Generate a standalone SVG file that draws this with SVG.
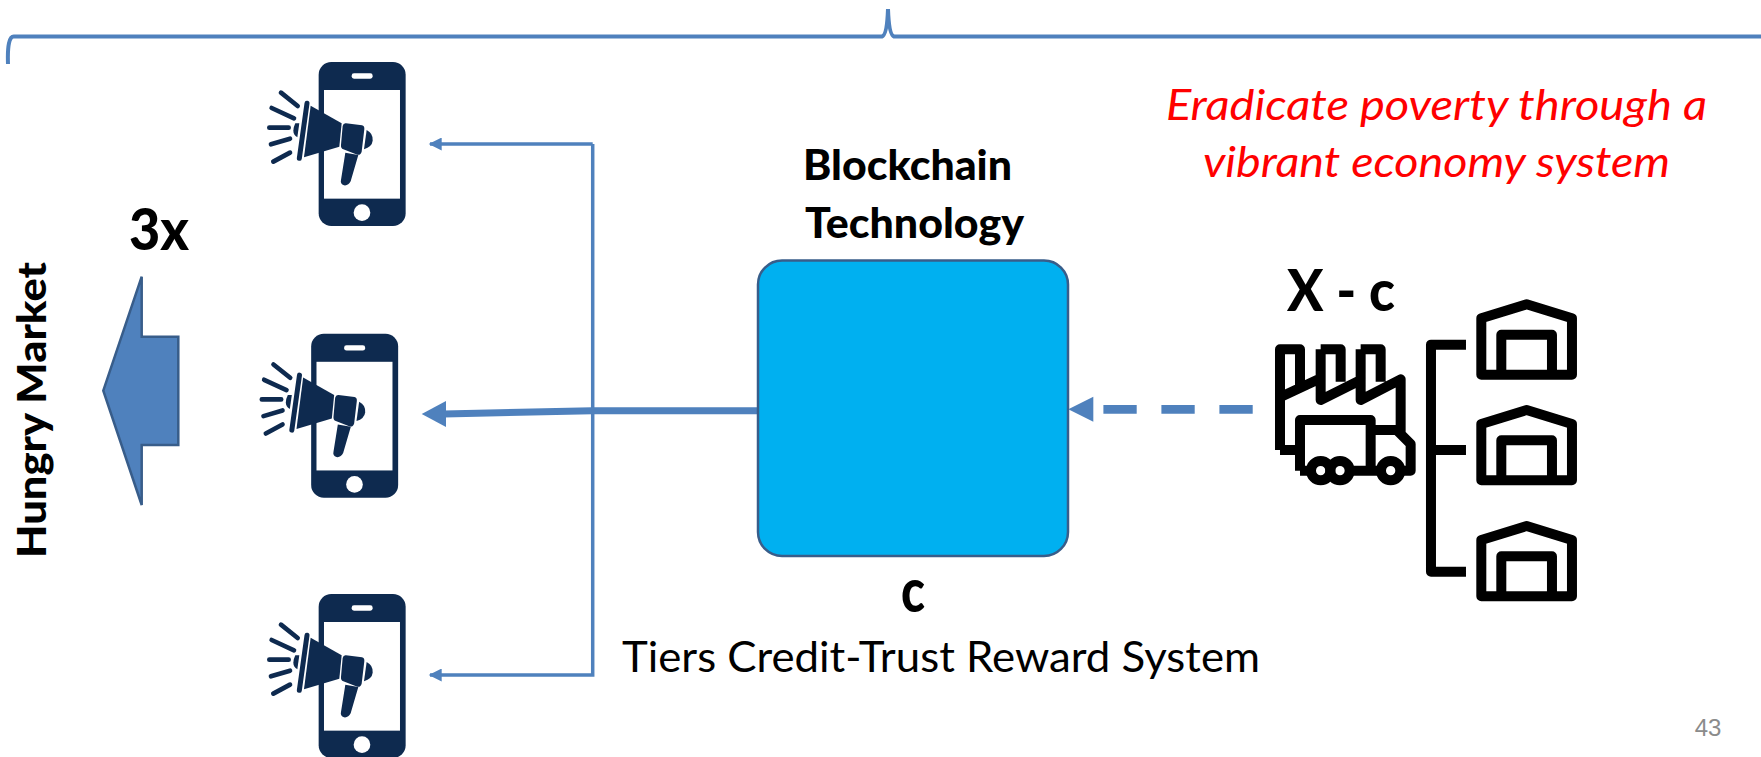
<svg xmlns="http://www.w3.org/2000/svg" width="1761" height="757" viewBox="0 0 1761 757">
<style>
.t{font-family:Lato,"Open Sans",sans-serif;fill:#000}
.b{font-weight:900}
.r{fill:#f00;font-style:italic}
.ink{fill:none;stroke:#000;stroke-width:30;stroke-linejoin:round;stroke-linecap:butt}
.wire{fill:none;stroke:#4f81bd}
.navy{fill:#0e2a4f}
.ray{stroke:#0e2a4f;stroke-width:14;stroke-linecap:round;fill:none}
</style>
<defs>
<marker id="ah" viewBox="0 0 10 10" refX="9" refY="5" markerWidth="15" markerHeight="13" markerUnits="userSpaceOnUse" orient="auto"><path d="M0 0L10 5L0 10Z" fill="#4f81bd"/></marker>
<g id="phone" transform="scale(.3333)">
<rect x="236" y="66" width="261" height="492" rx="38" class="navy"/>
<rect x="252" y="150" width="228" height="326" fill="#fff"/>
<rect x="335" y="100" width="63" height="16" rx="7" fill="#fff"/>
<circle cx="366" cy="518" r="25" fill="#fff"/>
<path class="ray" d="M123 158L173 198M95 204L162 235M88 263H146M93 313L150 296M100 365L150 338"/>
<path d="M166 250Q160 262 160 272Q160 284 172 292L178 250Z" class="navy"/>
<path d="M201 190L178 355" stroke="#0e2a4f" stroke-width="15" stroke-linecap="round" fill="none"/>
<path d="M212 197L305 250L298 320L192 352Z" class="navy"/>
<path d="M318 250L366 256Q374 258 373 268L365 335Q362 346 352 344L310 328Q302 325 303 315L308 258Q310 249 318 250Z" class="navy"/>
<path d="M380 270Q400 280 398 302Q396 320 372 328Z" class="navy"/>
<path d="M316 338L355 345L332 424Q325 438 312 436Q300 432 303 420Z" class="navy"/>
</g>
<g id="shed">
<path class="ink" d="M664 145L800 103L936 145V314H664ZM724 314V194H876V314"/>
</g>
</defs>
<g id="connectors">
<path class="wire" stroke-width="4" d="M8 64Q7 36 14 36.500H882Q887 35 888 9Q889 35 894 36.500H1761"/>
<path class="wire" stroke-width="3.500" marker-end="url(#ah)" d="M592.700 144H430"/>
<path class="wire" stroke-width="3.500" marker-end="url(#ah)" d="M592.700 144V675H430"/>
<path class="wire" stroke-width="7" d="M757 410.700H592L444 414"/>
<path d="M421.700 414L446 401V427Z" fill="#4f81bd"/>
<path class="wire" stroke-width="8.700" stroke-dasharray="33.300 24.700" d="M1252.700 409.300H1100"/>
<path d="M1068.300 409.300L1093.300 396.700V421.700Z" fill="#4f81bd"/>
</g>
<g id="market-arrow"><path d="M103.300 390.700L141.700 276.700V336.700H178.300V445H141.700V505Z" fill="#4f81bd" stroke="#385d8a" stroke-width="2.500"/></g>
<g id="phone-1"><use href="#phone" x="240" y="40"/></g>
<g id="phone-2"><use href="#phone" x="232.500" y="311.800"/></g>
<g id="phone-3"><use href="#phone" x="240" y="572"/></g>
<g id="blockchain"><rect x="758" y="260.500" width="310" height="295.500" rx="24" fill="#00b0f0" stroke="#385d8a" stroke-width="2.500"/></g>
<g id="factory" transform="translate(1260 270) scale(.3333)">
<path class="ink" d="M60 540V238H120V345M60 382L182 325M182 238H242V335M182 238V390L302 330M302 238H362V335M302 238V390L422 328V490M60 540H120M120 602V450H332V602M332 480H410L452 522V602H430M120 602H142M270 602H360"/>
<circle class="ink" cx="182" cy="602" r="29"/><circle class="ink" cx="240" cy="602" r="29"/><circle class="ink" cx="392" cy="602" r="29"/>
<path class="ink" d="M618 224H513V905H618M513 540H618"/>
<use href="#shed"/><use href="#shed" y="317"/><use href="#shed" y="665"/>
</g>
<g id="labels">
<text class="t b" font-size="42" x="803" y="180" textLength="209" lengthAdjust="spacingAndGlyphs">Blockchain</text>
<text class="t b" font-size="42" x="805" y="238" textLength="219" lengthAdjust="spacingAndGlyphs">Technology</text>
<text class="t b" font-size="58" x="129" y="250" textLength="60" lengthAdjust="spacingAndGlyphs">3x</text>
<text class="t b" font-size="39" transform="translate(46 558) rotate(-90)" textLength="296" lengthAdjust="spacingAndGlyphs">Hungry Market</text>
<text class="t b" font-size="57" x="1287" y="311" textLength="108" lengthAdjust="spacingAndGlyphs">X - c</text>
<text class="t b" font-size="60" x="901" y="612" textLength="24" lengthAdjust="spacingAndGlyphs">c</text>
<text class="t" font-size="43" x="622" y="672" textLength="638" lengthAdjust="spacingAndGlyphs">Tiers Credit-Trust Reward System</text>
<text class="t r" font-size="43" x="1166" y="120" textLength="541" lengthAdjust="spacingAndGlyphs">Eradicate poverty through a</text>
<text class="t r" font-size="43" x="1203" y="177" textLength="467" lengthAdjust="spacingAndGlyphs">vibrant economy system</text>
<text font-family="Liberation Sans,sans-serif" font-size="24" fill="#8b8b8b" x="1708" y="736" text-anchor="middle">43</text>
</g>
</svg>
